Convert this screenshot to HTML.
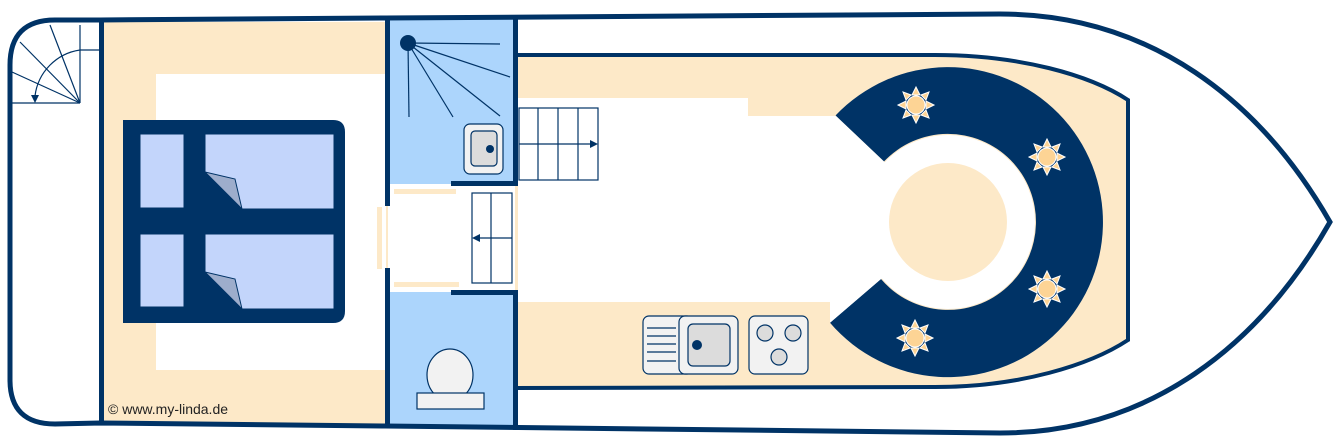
<!DOCTYPE html>
<html><head><meta charset="utf-8"><style>html,body{margin:0;padding:0;background:#fff}svg{display:block}</style></head>
<body>
<svg width="1339" height="447" viewBox="0 0 1339 447" xmlns="http://www.w3.org/2000/svg">
<!-- inner deck beige -->
<path d="M515,55 L935,55 C1020,55 1090,75 1128,100 L1128,340 C1090,365 1020,387 935,387 L515,388 Z" fill="#fde9c8"/>
<!-- white open area -->
<path d="M518,98 L748,98 L748,116 L835,116 L948,222 L830,323 L830,302 L518,302 Z" fill="#fff"/>
<!-- C-shaped seat -->
<path d="M835.5,115.5 A155,155 0 1 1 830,322.7 L881,279 A88,88 0 1 0 884,161.5 Z" fill="#003366"/>
<circle cx="948" cy="222" r="87" fill="#fff"/>
<path d="M835.5,115.5 L884,161.5 L948,222 L881,279 L830,322.7 Z" fill="#fff"/>
<circle cx="948" cy="222" r="59" fill="#fde9c8"/>
<g fill="#fdd495" stroke="#fff" stroke-width="1">
<g transform="translate(916,105)"><polygon points="0,-18 4,-10 -4,-10"/><polygon points="0,18 4,10 -4,10"/><polygon points="-18,0 -10,4 -10,-4"/><polygon points="18,0 10,4 10,-4"/><polygon points="-13,-13 -5,-10 -10,-5"/><polygon points="13,-13 5,-10 10,-5"/><polygon points="-13,13 -5,10 -10,5"/><polygon points="13,13 5,10 10,5"/><circle r="9"/></g>
<g transform="translate(1047,157)"><polygon points="0,-18 4,-10 -4,-10"/><polygon points="0,18 4,10 -4,10"/><polygon points="-18,0 -10,4 -10,-4"/><polygon points="18,0 10,4 10,-4"/><polygon points="-13,-13 -5,-10 -10,-5"/><polygon points="13,-13 5,-10 10,-5"/><polygon points="-13,13 -5,10 -10,5"/><polygon points="13,13 5,10 10,5"/><circle r="9"/></g>
<g transform="translate(1047,289)"><polygon points="0,-18 4,-10 -4,-10"/><polygon points="0,18 4,10 -4,10"/><polygon points="-18,0 -10,4 -10,-4"/><polygon points="18,0 10,4 10,-4"/><polygon points="-13,-13 -5,-10 -10,-5"/><polygon points="13,-13 5,-10 10,-5"/><polygon points="-13,13 -5,10 -10,5"/><polygon points="13,13 5,10 10,5"/><circle r="9"/></g>
<g transform="translate(915,338)"><polygon points="0,-18 4,-10 -4,-10"/><polygon points="0,18 4,10 -4,10"/><polygon points="-18,0 -10,4 -10,-4"/><polygon points="18,0 10,4 10,-4"/><polygon points="-13,-13 -5,-10 -10,-5"/><polygon points="13,-13 5,-10 10,-5"/><polygon points="-13,13 -5,10 -10,5"/><polygon points="13,13 5,10 10,5"/><circle r="9"/></g>
</g>
<path d="M515,55 L935,55 C1020,55 1090,75 1128,100 L1128,340 C1090,365 1020,387 935,387 L515,388" fill="none" stroke="#003366" stroke-width="4"/>
<!-- kitchen -->
<g stroke="#003366" stroke-width="1.2">
<rect x="643" y="316" width="50" height="58" rx="6" fill="#f2f2f2"/>
<line x1="647" y1="328" x2="676" y2="328"/><line x1="647" y1="336" x2="676" y2="336"/><line x1="647" y1="344" x2="676" y2="344"/><line x1="647" y1="352" x2="676" y2="352"/><line x1="647" y1="361" x2="676" y2="361"/>
<rect x="679" y="316" width="59" height="58" rx="6" fill="#f2f2f2"/>
<rect x="688" y="324" width="42" height="42" rx="5" fill="#dcdcdc"/>
<rect x="749" y="316" width="59" height="58" rx="6" fill="#f2f2f2"/>
<circle cx="765" cy="333" r="8" fill="#dcdcdc"/><circle cx="793" cy="333" r="8" fill="#dcdcdc"/><circle cx="779" cy="357" r="8" fill="#dcdcdc"/>
</g>
<circle cx="697" cy="345" r="5" fill="#003366"/>
<!-- stairs -->
<g stroke="#003366" stroke-width="1.2" fill="#fff">
<rect x="519" y="108" width="79" height="72"/>
<line x1="538" y1="108" x2="538" y2="180"/><line x1="558" y1="108" x2="558" y2="180"/><line x1="578" y1="108" x2="578" y2="180"/>
<line x1="519" y1="144" x2="592" y2="144"/>
<rect x="472" y="193" width="40" height="90"/>
<line x1="491" y1="193" x2="491" y2="283"/><line x1="478" y1="238" x2="512" y2="238"/>
</g>
<polygon points="598,144 590,140 590,148" fill="#003366"/>
<polygon points="472,238 480,234 480,242" fill="#003366"/>
<!-- bedroom -->
<rect x="103" y="22" width="285" height="402" fill="#fde9c8"/>
<rect x="156" y="74" width="230" height="296" fill="#fff"/>
<path d="M123,120 L333,120 Q345,120 345,132 L345,311 Q345,323 333,323 L123,323 Z" fill="#003366"/>
<g fill="#c3d5fb" stroke="#003366" stroke-width="1">
<rect x="140" y="134" width="44" height="74"/><rect x="140" y="234" width="44" height="73"/>
<rect x="205" y="134" width="129" height="75"/><rect x="205" y="234" width="129" height="75"/>
</g>
<polygon points="205,172 205,209 242,209" fill="#003366"/>
<polygon points="205,272 205,309 242,309" fill="#003366"/>
<polygon points="205,172 235,179 242,209" fill="#9dadcc" stroke="#003366" stroke-width="1"/>
<polygon points="205,272 235,279 242,309" fill="#9dadcc" stroke="#003366" stroke-width="1"/>
<text x="108" y="414" font-family="Liberation Sans, sans-serif" font-size="14" fill="#222">© www.my-linda.de</text>
<!-- bathrooms -->
<rect x="388" y="18" width="127" height="166" fill="#acd5fc"/>
<rect x="388" y="292" width="127" height="135" fill="#acd5fc"/>
<g stroke="#003366" stroke-width="1.2">
<line x1="408" y1="43" x2="500" y2="44"/><line x1="408" y1="43" x2="510" y2="77"/><line x1="408" y1="43" x2="500" y2="116"/><line x1="408" y1="43" x2="453" y2="117"/><line x1="408" y1="43" x2="409" y2="117"/>
<rect x="464" y="124" width="39" height="50" rx="6" fill="#f2f2f2"/>
<rect x="471" y="131" width="26" height="35" rx="4" fill="#dcdcdc"/>
<ellipse cx="450" cy="375" rx="23" ry="26" fill="#f2f2f2"/>
<rect x="417" y="393" width="67" height="16" fill="#f2f2f2"/>
</g>
<circle cx="408" cy="43" r="8" fill="#003366"/>
<circle cx="490" cy="149" r="4" fill="#003366"/>
<g fill="#fde9c8">
<rect x="394" y="189" width="62" height="5"/><rect x="394" y="282" width="65" height="5"/><rect x="377" y="207" width="5" height="62"/>
</g>
<g fill="#003366">
<rect x="385" y="18" width="5" height="188"/><rect x="385" y="268" width="5" height="160"/>
<rect x="513" y="16" width="5" height="170"/><rect x="513" y="290" width="5" height="140"/>
<rect x="451" y="181" width="67" height="5"/><rect x="451" y="290" width="67" height="5"/>
<rect x="99" y="20" width="5" height="404"/>
</g>
<!-- spiral stair -->
<g stroke="#003366" stroke-width="1.2" fill="none">
<line x1="80" y1="25" x2="80" y2="103"/><line x1="12" y1="103" x2="80" y2="103"/>
<line x1="80" y1="50" x2="100" y2="50"/>
<line x1="80" y1="103" x2="50" y2="25"/><line x1="80" y1="103" x2="20" y2="42"/><line x1="80" y1="103" x2="12" y2="72"/>
<path d="M80,50 A53,53 0 0 0 35,96"/>
</g>
<polygon points="35,103 31,95 39,95" fill="#003366"/>
<!-- hull -->
<path d="M100,20 L55,20 Q10,20 10,65 L10,380 Q10,424 55,424 L100,423 L385,426 L1000,433 C1150,433 1260,345 1330,222 C1260,100 1150,14 1000,14 L385,18 Z" fill="none" stroke="#003366" stroke-width="5"/>
</svg>
</body></html>
